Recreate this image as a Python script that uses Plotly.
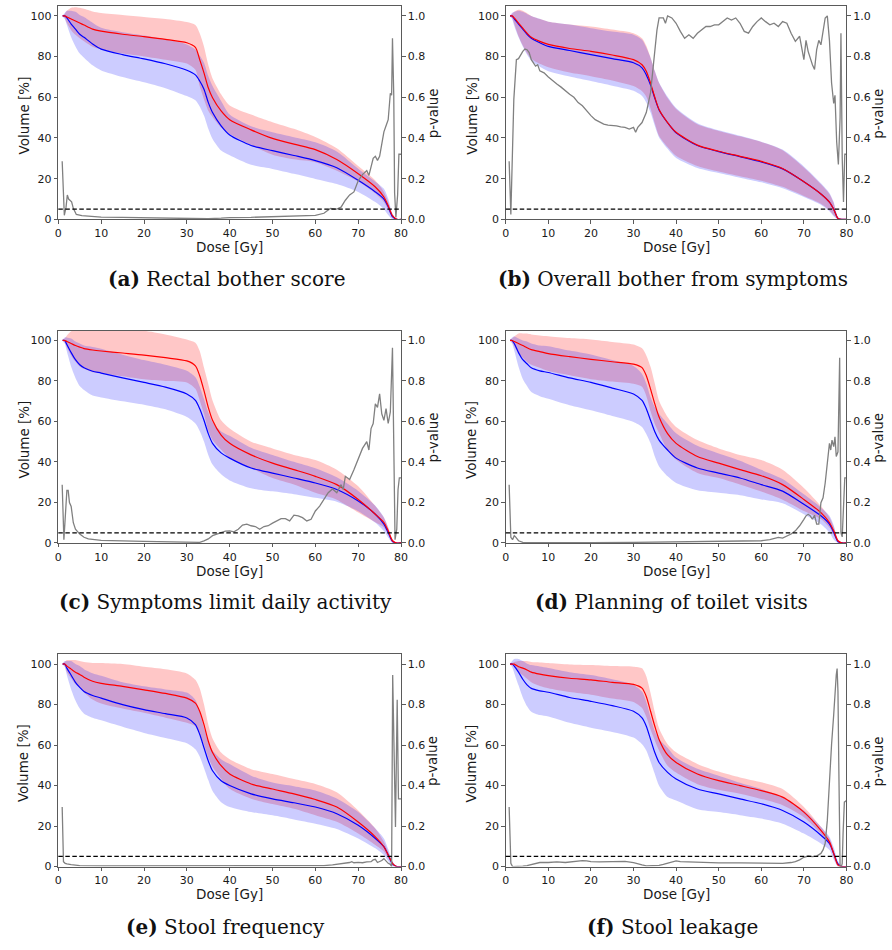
import plotly.graph_objects as go

W, H = 892, 950

# ---------------- data ----------------
DOSE = [1, 1.5, 2, 3, 4, 5, 6, 8, 10, 15, 20, 25, 30, 32, 33, 34, 35, 36, 38, 40,
        45, 50, 55, 60, 65, 70, 74, 76, 77, 78, 79, 80]

# (a) Rectal bother score
RED_MEAN_A = [100, 100, 99.5, 98.5, 97.5, 96.5, 95.5, 93.5, 92.5, 91, 89.8, 88.5, 86.8, 84.5, 78.5, 72, 64.7, 59.8, 53.3, 49,
              44, 39.8, 37, 34.3, 29.4, 22.4, 15.9, 11, 6.7, 1.8, 0, 0]
RED_SD_A = [0, 1, 3, 5.5, 6.8, 7.5, 8, 8.7, 9, 9.5, 9.7, 10, 10.2, 11, 13, 13, 11.3, 9.5, 8.2, 7,
            7.5, 8, 7.5, 6.2, 5.5, 3.8, 3.2, 2.5, 2, 1, 0, 0]
BLUE_MEAN_A = [100, 100, 99, 96, 93.5, 91, 89.5, 86.2, 83.7, 81, 78.9, 76.5, 73.3, 71, 68, 64, 57.5, 52.5, 46, 41.5,
               36.3, 33.8, 31.4, 28.9, 25.4, 19.2, 13.5, 10, 6.2, 1.3, 0, 0]
BLUE_SD_A = [0, 1.5, 3.5, 6.5, 8.5, 9.5, 10, 10.5, 10.5, 11, 11.5, 12, 12.7, 12.5, 12.5, 13, 13, 13, 12.2, 10,
             9.5, 9, 9, 9, 8, 5.7, 5, 5, 4, 1.3, 0, 0]
P_DOSE_A = [0.9, 1.4, 1.8, 2.1, 2.4, 2.7, 3.1, 3.5, 4.2, 5.5, 7, 10, 15, 20, 25, 30, 35, 38, 40, 45,
            50, 55, 60, 62, 63.5, 65, 66, 67, 68, 69, 70, 71, 72, 72.5, 73, 73.5, 74, 74.5, 75, 75.5,
            76, 76.5, 77, 77.5, 77.8, 78.0, 78.3, 78.5, 78.8, 79.2, 79.5, 80]
P_A = [0.286, 0.02, 0.06, 0.12, 0.10, 0.095, 0.086, 0.054, 0.024, 0.018, 0.015, 0.011, 0.010, 0.008, 0.006, 0.003, 0.003, 0.006, 0.009, 0.010,
       0.013, 0.015, 0.02, 0.03, 0.054, 0.05, 0.06, 0.094, 0.12, 0.135, 0.19, 0.22, 0.24, 0.216, 0.265, 0.30, 0.31, 0.29, 0.31, 0.38,
       0.43, 0.46, 0.49, 0.62, 0.61, 0.89, 0.61, 0.13, 0.01, 0.12, 0.32, 0.32]

# (b) Overall bother from symptoms
RED_MEAN_B = [100, 100, 99, 96.5, 94, 91.5, 89.5, 87.5, 86, 84, 82.6, 80.8, 78.5, 76, 72.8, 67, 60, 54, 47.6, 42.8,
              36.5, 33.5, 31, 28.5, 25, 18.5, 12.5, 8.5, 5, 0.5, 0, 0]
RED_SD_B = [0, 1, 3, 6.5, 8.5, 9.8, 10.5, 11, 11.2, 11.8, 12.2, 12.5, 13, 13, 12.5, 12.5, 12.8, 13, 12, 11.5,
            10.3, 10, 9.8, 9.5, 9, 7, 4.8, 4, 3, 0.5, 0, 0]
BLUE_MEAN_B = [100, 100, 98.5, 96, 93.5, 91, 89, 86.8, 85, 83, 81, 79, 77, 74.5, 71, 66, 59.5, 53.8, 47.5, 42.5,
               36.3, 33.3, 30.8, 28.2, 24.8, 18.5, 12.5, 8.5, 5, 0.5, 0, 0]
BLUE_SD_B = [0, 1.5, 3.5, 6.5, 8.5, 10, 11, 11.8, 12.2, 12.8, 13, 13.3, 13.8, 13.8, 13.5, 13.5, 13.5, 13.5, 12.8, 12.3,
             11, 10.5, 10.3, 10, 9.5, 7.5, 5.3, 4.5, 3.5, 0.5, 0, 0]
P_DOSE_B = [0.8, 1.2, 1.9, 2.5, 3, 3.5, 4, 4.5, 5, 5.5,
            6, 7, 7.5, 8, 9, 10, 11, 12, 13, 14,
            15, 16, 17, 18, 19, 20, 21, 22, 23, 24,
            25, 26, 27, 28, 29, 30, 30.5, 31, 32, 33,
            34, 35, 35.5, 36, 37, 37.5, 38, 39, 40, 41,
            42, 43, 44, 45, 46, 47, 48, 49, 50, 51,
            52, 53, 54, 55, 56, 57, 58, 59, 60, 61,
            62, 63, 64, 65, 66, 67, 68, 69, 70, 70.5,
            71, 72, 72.5, 73, 73.5, 74, 74.5, 75, 75.5, 76,
            76.5, 77, 77.3, 77.7, 78.1, 78.5, 78.7, 79, 79.3, 79.6,
            80]
P_B = [0.286, 0.024, 0.59, 0.785, 0.79, 0.81, 0.826, 0.837, 0.834, 0.82,
       0.785, 0.753, 0.76, 0.73, 0.72, 0.70, 0.68, 0.665, 0.65, 0.63,
       0.615, 0.60, 0.574, 0.558, 0.533, 0.51, 0.49, 0.48, 0.468, 0.463,
       0.463, 0.46, 0.455, 0.452, 0.444, 0.452, 0.428, 0.452, 0.476, 0.525,
       0.623, 0.818, 0.93, 0.99, 0.99, 0.964, 1.0, 0.99, 0.964, 0.924,
       0.89, 0.907, 0.89, 0.915, 0.93, 0.948, 0.948, 0.956, 0.956, 0.972,
       0.99, 0.98, 0.99, 0.964, 0.924, 0.915, 0.948, 0.972, 0.99, 0.972,
       0.956, 0.964, 0.948, 0.972, 0.964, 0.915, 0.875, 0.90, 0.785, 0.88,
       0.826, 0.76, 0.737, 0.834, 0.88, 0.858, 0.93, 0.99, 1.0, 0.88,
       0.67, 0.57, 0.61, 0.38, 0.27, 0.5, 0.915, 0.3, 0.085, 0.32,
       0.32]

# (c) Symptoms limit daily activity
RED_MEAN_C = [100, 100, 99.5, 98.5, 97.5, 96.7, 96, 95.3, 94.8, 93.8, 92.8, 91.5, 89.9, 87.5, 82.6, 75.2, 67, 60.6, 53.3, 49.2,
              43.5, 39.4, 36.2, 32.9, 28.8, 21.5, 14.2, 10.1, 6, 1.1, 0, 0]
RED_SD_C = [0, 1, 3, 6, 8, 9.5, 10, 11, 11, 11.5, 12, 11.5, 10.6, 11.4, 12.2, 11.4, 11.5, 9.8, 7.3, 7.3,
            6.5, 7.3, 7.3, 8.1, 7.4, 6.5, 4, 2.4, 1.7, 0.9, 0, 0]
BLUE_MEAN_C = [100, 100, 98, 94, 90.5, 88, 86.5, 84.8, 83.9, 81.5, 79.3, 77, 73.6, 70.4, 66.3, 60.6, 54, 49.2, 44.5, 41.9,
               37, 34.5, 32.1, 29.6, 26.4, 20.7, 14.2, 9.3, 5.2, 0.8, 0, 0]
BLUE_SD_C = [0, 1.5, 3.5, 7, 9, 10.5, 11, 12, 12, 11.5, 11, 11, 11.4, 11.4, 11, 10.5, 10.5, 10.5, 10.6, 11,
             10, 9, 8, 7.3, 6, 5, 4.2, 3.4, 2.5, 0.8, 0, 0]
P_DOSE_C = [0.9, 1.3, 2, 2.3, 2.6, 3, 3.5, 4, 5, 6,
            7, 10, 20, 30, 33, 34, 35, 36, 37, 38,
            39, 40, 41, 42, 43, 44, 45, 46, 47, 48,
            49, 50, 51, 52, 53, 54, 55, 56, 57, 58,
            59, 60, 61, 62, 63, 64, 65, 66, 66.5, 67,
            68, 69, 70, 71, 72, 72.5, 73, 73.5, 74, 74.5,
            75, 75.5, 76, 76.5, 77, 77.5, 78, 78.3, 78.6, 79,
            79.3, 79.6, 80]
P_C = [0.288, 0.016, 0.26, 0.26, 0.2, 0.18, 0.1, 0.068, 0.044, 0.028,
       0.02, 0.013, 0.008, 0.003, 0.003, 0.01, 0.02, 0.036, 0.044, 0.052,
       0.059, 0.06, 0.055, 0.068, 0.088, 0.093, 0.085, 0.081, 0.068, 0.081,
       0.085, 0.098, 0.109, 0.12, 0.12, 0.109, 0.137, 0.134, 0.125, 0.109,
       0.117, 0.158, 0.182, 0.215, 0.248, 0.267, 0.248, 0.288, 0.264, 0.329,
       0.313, 0.362, 0.41, 0.467, 0.5, 0.459, 0.565, 0.59, 0.687, 0.67,
       0.736, 0.638, 0.606, 0.663, 0.59, 0.647, 0.964, 0.296, 0.016, 0.068,
       0.264, 0.321, 0.321]

# (d) Planning of toilet visits
RED_MEAN_D = [100, 100, 99.5, 98.5, 97.5, 96.4, 95.5, 94.5, 93.5, 92, 90.7, 89.5, 88.3, 86.6, 82.6, 76, 68.7, 62.2, 54, 49.2,
              42.7, 39.4, 36.2, 33.2, 28.8, 21.5, 15, 10.1, 6, 1.1, 0, 0]
RED_SD_D = [0, 1, 2.5, 5, 6, 7, 7.5, 8, 8.6, 9.2, 9.8, 9.8, 9.7, 9.5, 10, 11, 10, 8, 8.2, 8.1,
            8.1, 7.3, 7.3, 7.8, 7.4, 5.7, 3.2, 2.5, 2, 0.9, 0, 0]
BLUE_MEAN_D = [100, 100, 98.5, 94, 90.5, 88.5, 86.5, 85, 84.2, 81.5, 79.3, 76.5, 73.6, 70.4, 66.3, 60.6, 54.9, 50.8, 45.9, 41.9,
               37, 34.5, 32.1, 28.8, 25.6, 19.1, 13.4, 9.3, 5.2, 0.7, 0, 0]
BLUE_SD_D = [0, 1.5, 3.5, 7, 9.5, 11, 12, 12.5, 13, 13.5, 13.8, 13.8, 13.8, 13.1, 12.5, 11.4, 12.2, 13, 13, 12.3,
             11, 9.7, 8.5, 7.3, 6, 4.9, 4.1, 4.1, 3.5, 0.7, 0, 0]
P_DOSE_D = [0.8, 1.2, 1.6, 2, 2.3, 3, 4, 10, 20, 30,
            40, 50, 55, 60, 62, 64, 65, 66, 67, 68,
            69, 70, 70.5, 71, 71.5, 72, 72.5, 73, 73.5, 74,
            74.5, 75, 75.5, 76, 76.3, 76.6, 77, 77.3, 77.6, 78,
            78.4, 78.7, 79, 79.3, 79.6, 80]
P_D = [0.288, 0.028, 0.016, 0.036, 0.03, 0.011, 0.003, 0.002, 0.002, 0.003,
       0.006, 0.006, 0.008, 0.011, 0.016, 0.028, 0.024, 0.033, 0.044, 0.06,
       0.085, 0.117, 0.134, 0.142, 0.134, 0.117, 0.137, 0.093, 0.093, 0.199,
       0.223, 0.296, 0.394, 0.492, 0.459, 0.508, 0.476, 0.524, 0.427, 0.45,
       0.915, 0.05, 0.03, 0.2, 0.321, 0.321]

# (e) Stool frequency
RED_MEAN_E = [100, 100, 99, 97.5, 96, 94.9, 93.5, 91.5, 90.5, 89, 87.3, 85.5, 83.2, 80.7, 76.7, 70.1, 62, 56.3, 49.8, 45.7,
              40.8, 38.3, 35.9, 33.1, 29.4, 22, 14.7, 9.8, 5.7, 1.6, 0, 0]
RED_SD_E = [0, 1, 3, 4.5, 6, 6.6, 7.5, 9, 10, 11, 11.4, 12, 12.2, 11.5, 11.3, 10, 8.1, 7, 6.5, 7.3,
            7.3, 7.4, 7.3, 7.7, 7.3, 5.7, 4.1, 2.4, 1.6, 0.8, 0, 0]
BLUE_MEAN_E = [100, 100, 98, 94.5, 91, 88.5, 86.5, 84.5, 83.2, 80, 77.5, 75.5, 73.4, 70.1, 65.3, 58.7, 52.2, 47.3, 42.4, 40,
               35.9, 33.4, 31.5, 29.4, 26.1, 20.4, 13.9, 9.8, 5.7, 1.3, 0, 0]
BLUE_SD_E = [0, 1.5, 3.5, 7, 9, 10.5, 11, 11, 11, 11, 11.5, 12, 12.5, 12.2, 11, 10, 9.5, 10, 10.6, 10.6,
             9, 8.1, 8.2, 8.2, 7.5, 6.5, 4.9, 4.1, 3, 1.3, 0, 0]
P_DOSE_E = [0.9, 1.2, 1.6, 2, 3, 5, 10, 20, 30, 40,
            50, 60, 62, 64, 65, 66, 67, 68, 68.5, 69,
            70, 71, 72, 73, 73.5, 74, 74.5, 75, 75.5, 76,
            76.5, 77, 77.5, 77.8, 78.05, 78.7, 79.1, 79.4, 80]
P_E = [0.294, 0.024, 0.016, 0.013, 0.01, 0.005, 0.003, 0.003, 0.003, 0.003,
       0.003, 0.003, 0.005, 0.008, 0.011, 0.012, 0.016, 0.02, 0.024, 0.019,
       0.021, 0.019, 0.023, 0.024, 0.033, 0.036, 0.02, 0.024, 0.03, 0.039,
       0.028, 0.016, 0.011, 0.0, 0.946, 0.196, 0.824, 0.334, 0.334]

# (f) Stool leakage
RED_MEAN_F = [100, 100, 100, 98.7, 98, 97.1, 96, 95, 94.3, 93, 92.2, 91, 90, 88.1, 84, 76.7, 69.3, 62.8, 55.1, 51.4,
              45.7, 42.4, 40, 37.5, 34.3, 26.9, 17.9, 12.2, 6.5, 0.8, 0, 0]
RED_SD_F = [0, 0.5, 1, 2.8, 3.5, 4.4, 5, 5.8, 6.2, 6.8, 7.3, 8, 8.7, 9.8, 10, 9, 7, 5.5, 5.3, 5,
            5, 4.5, 4, 4.1, 4, 2.5, 1.7, 1.7, 1.7, 0.8, 0, 0]
BLUE_MEAN_F = [100, 100, 99, 96, 92.5, 89.7, 88, 86.8, 86.1, 83.5, 81.6, 79.5, 76.7, 73.4, 69.3, 62.8, 56.3, 51.4, 46.5, 43.2,
               38.3, 35.9, 33.4, 31, 27.7, 22, 15.5, 11.4, 6.5, 1.3, 0, 0]
BLUE_SD_F = [0, 1.5, 3.5, 6.5, 9, 10.5, 11.5, 12, 12, 12.5, 13, 13, 13, 13, 12, 11, 10.6, 11.5, 12.2, 10.6,
             10, 9, 8, 7.3, 6.5, 5.7, 4.1, 3.2, 3, 1.3, 0, 0]
P_DOSE_F = [0.8, 1.2, 1.6, 3, 4, 5, 6, 7, 8, 10,
            12, 14, 15, 17, 18, 19, 20, 22, 25, 27,
            28, 30, 31, 32, 33, 35, 36, 37, 38, 39,
            40, 41, 42, 45, 48, 50, 55, 60, 65, 67,
            68, 69, 70, 71, 72, 73, 73.5, 74, 74.5, 75,
            75.5, 76, 76.5, 77, 77.3, 77.6, 77.8, 78, 78.2, 78.5,
            78.8, 79, 79.2, 79.5, 80]
P_F = [0.294, 0.016, 0.0, 0.0, 0.002, 0.005, 0.01, 0.016, 0.02, 0.02,
       0.023, 0.02, 0.023, 0.026, 0.029, 0.028, 0.024, 0.023, 0.024, 0.028,
       0.026, 0.02, 0.013, 0.008, 0.003, 0.003, 0.006, 0.011, 0.016, 0.023,
       0.028, 0.024, 0.023, 0.021, 0.02, 0.018, 0.018, 0.016, 0.016, 0.02,
       0.024, 0.033, 0.046, 0.052, 0.049, 0.052, 0.057, 0.065, 0.082, 0.114,
       0.228, 0.44, 0.604, 0.75, 0.864, 0.946, 0.978, 0.864, 0.489, 0.0,
       0.0, 0.016, 0.163, 0.318, 0.326]

P_THRESHOLD = 0.05
LETTERS = ["(a)", "(b)", "(c)", "(d)", "(e)", "(f)"]
CAPTIONS = ["Rectal bother score", "Overall bother from symptoms", "Symptoms limit daily activity",
            "Planning of toilet visits", "Stool frequency", "Stool leakage"]
X_TICKS = [0, 10, 20, 30, 40, 50, 60, 70, 80]
Y_TICKS = [0, 20, 40, 60, 80, 100]
P_TICKS = [0.0, 0.2, 0.4, 0.6, 0.8, 1.0]

SERIES = [
    (RED_MEAN_A, RED_SD_A, BLUE_MEAN_A, BLUE_SD_A, P_DOSE_A, P_A),
    (RED_MEAN_B, RED_SD_B, BLUE_MEAN_B, BLUE_SD_B, P_DOSE_B, P_B),
    (RED_MEAN_C, RED_SD_C, BLUE_MEAN_C, BLUE_SD_C, P_DOSE_C, P_C),
    (RED_MEAN_D, RED_SD_D, BLUE_MEAN_D, BLUE_SD_D, P_DOSE_D, P_D),
    (RED_MEAN_E, RED_SD_E, BLUE_MEAN_E, BLUE_SD_E, P_DOSE_E, P_E),
    (RED_MEAN_F, RED_SD_F, BLUE_MEAN_F, BLUE_SD_F, P_DOSE_F, P_F),
]

# ---------------- layout (pixel boxes of each plot area) ----------------
BOXES = [
    (55, 402, 6, 221), (508, 853, 6, 221),
    (55, 402, 333, 547), (508, 853, 333, 547),
    (55, 402, 659, 873), (508, 853, 659, 873),
]
CAPTION_POS = [(225, 281), (677, 281), (224, 606), (676, 606), (224, 934), (677, 934)]

SANS = "DejaVu Sans"
TXT = "#1a1a1a"
FRAME = "#5a5a5a"


def fx(px):
    return px / W


def fy(px):
    return 1 - px / H


fig = go.Figure()
layout = dict(width=W, height=H, margin=dict(l=0, r=0, t=0, b=0),
              paper_bgcolor="white", plot_bgcolor="white", showlegend=False)
annotations = []
shapes = []

for i, (rm, rs, bm, bs, pd_, pv) in enumerate(SERIES):
    x0, x1, y0, y1 = BOXES[i]
    xn = i + 1
    yl = 2 * i + 1
    yr = 2 * i + 2
    xname = "x" if xn == 1 else f"x{xn}"
    ylname = "y" if yl == 1 else f"y{yl}"
    yrname = f"y{yr}"
    xkey = "xaxis" if xn == 1 else f"xaxis{xn}"
    ylkey = "yaxis" if yl == 1 else f"yaxis{yl}"
    yrkey = f"yaxis{yr}"

    red_hi = [m + s for m, s in zip(rm, rs)]
    red_lo = [m - s for m, s in zip(rm, rs)]
    blue_hi = [m + s for m, s in zip(bm, bs)]
    blue_lo = [m - s for m, s in zip(bm, bs)]
    rev = DOSE[::-1]

    fig.add_trace(go.Scatter(x=DOSE + rev, y=red_hi + red_lo[::-1], mode="lines", fill="toself",
                             fillcolor="rgba(255,0,0,0.22)", line=dict(width=0, shape="spline", smoothing=0.7),
                             xaxis=xname, yaxis=ylname, hoverinfo="skip"))
    fig.add_trace(go.Scatter(x=DOSE + rev, y=blue_hi + blue_lo[::-1], mode="lines", fill="toself",
                             fillcolor="rgba(0,0,255,0.2)", line=dict(width=0, shape="spline", smoothing=0.7),
                             xaxis=xname, yaxis=ylname, hoverinfo="skip"))
    fig.add_trace(go.Scatter(x=DOSE, y=bm, mode="lines", line=dict(color="#0000ff", width=1.2, shape="spline", smoothing=0.7),
                             xaxis=xname, yaxis=ylname))
    fig.add_trace(go.Scatter(x=DOSE, y=rm, mode="lines", line=dict(color="#ff0000", width=1.2, shape="spline", smoothing=0.7),
                             xaxis=xname, yaxis=ylname))
    fig.add_trace(go.Scatter(x=pd_, y=pv, mode="lines", line=dict(color="#808080", width=1.3),
                             xaxis=xname, yaxis=yrname))

    tickfont = dict(family=SANS, size=11, color=TXT)
    layout[xkey] = dict(domain=[fx(x0), fx(x1)], anchor=ylname, range=[0, 80], tickvals=X_TICKS,
                        ticks="outside", ticklen=3.5, tickcolor=FRAME, tickfont=tickfont,
                        showline=True, linecolor=FRAME, linewidth=1, mirror=True,
                        showgrid=False, zeroline=False, fixedrange=True)
    layout[ylkey] = dict(domain=[fy(y1), fy(y0)], anchor=xname, range=[0, 104.9], tickvals=Y_TICKS,
                         ticks="outside", ticklen=3.5, tickcolor=FRAME, tickfont=tickfont,
                         showline=True, linecolor=FRAME, linewidth=1,
                         showgrid=False, zeroline=False, fixedrange=True)
    layout[yrkey] = dict(overlaying=ylname, side="right", anchor=xname, range=[0, 1.049],
                         tickvals=P_TICKS, tickformat=".1f",
                         ticks="outside", ticklen=3.5, tickcolor=FRAME, tickfont=tickfont,
                         showline=True, linecolor=FRAME, linewidth=1,
                         showgrid=False, zeroline=False, fixedrange=True)

    shapes.append(dict(type="line", xref=f"{xname} domain", yref=yrname, x0=0, x1=1,
                       y0=P_THRESHOLD, y1=P_THRESHOLD, line=dict(color="black", width=1.2, dash="4.5px,2.5px")))

    midy = (y0 + y1) / 2
    annotations.append(dict(text="Volume [%]", x=fx(x0 - 35), y=fy(midy + 3), xref="paper", yref="paper",
                            textangle=-90, showarrow=False, xanchor="center", yanchor="middle",
                            font=dict(family=SANS, size=13.5, color=TXT)))
    annotations.append(dict(text="p-value", x=fx(x1 + 32), y=fy(midy + 1), xref="paper", yref="paper",
                            textangle=-90, showarrow=False, xanchor="center", yanchor="middle",
                            font=dict(family=SANS, size=13.5, color=TXT)))
    annotations.append(dict(text="Dose [Gy]", x=fx((x0 + x1) / 2), y=fy(y1 + 28), xref="paper", yref="paper",
                            showarrow=False, xanchor="center", yanchor="middle",
                            font=dict(family=SANS, size=13.5, color=TXT)))
    cx, cy = CAPTION_POS[i]
    annotations.append(dict(text=f"<b>{LETTERS[i]}</b> {CAPTIONS[i]}", x=fx(cx), y=fy(cy),
                            xref="paper", yref="paper", showarrow=False, xanchor="center", yanchor="middle",
                            font=dict(family="DejaVu Serif", size=20, color="#111111")))

layout["annotations"] = annotations
layout["shapes"] = shapes
fig.update_layout(**layout)
fig.write_html("out.html")
